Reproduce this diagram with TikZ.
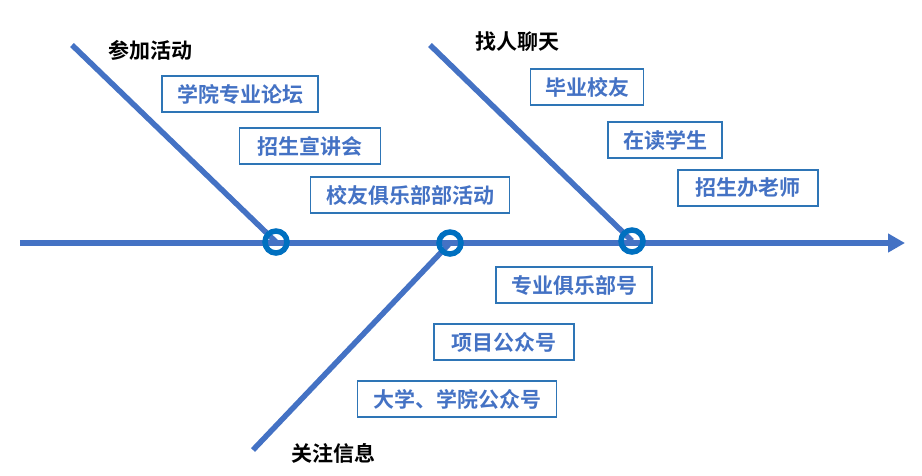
\documentclass[tikz,border=0pt]{standalone}
\usepackage{fontspec}
\setmainfont{Noto Sans CJK SC}[BoldFont={Noto Sans CJK SC Bold}]
\usetikzlibrary{arrows.meta}
\definecolor{bone}{HTML}{4472C4}
\definecolor{joint}{HTML}{0070C0}
\definecolor{boxline}{HTML}{2E75B6}

\begin{document}
\begin{tikzpicture}[x=1pt,y=-1pt,
    cause/.style = {draw=boxline, line width=1.1pt, text=bone, font=\fontsize{21}{23}\selectfont\bfseries, minimum height=36pt, inner xsep=8pt},
    head/.style = {font=\fontsize{21}{23}\selectfont\bfseries, text=black},
    ring/.style = {draw=joint, circle, line width=5.5pt, minimum size=22pt, inner sep=0pt},
    bone/.style = {draw=bone, line width=5.5pt}]
    \useasboundingbox (0,0) rectangle (922,475);

    % Nodes
    \coordinate (s) at (20,243);
    \coordinate (e) at (905,243);
    \coordinate (a0) at (72,45);
    \coordinate (b0) at (430,45);
    \coordinate (c0) at (253,450);
    \coordinate (ja) at (276,242);
    \coordinate (jc) at (450,243);
    \coordinate (jb) at (632,241);

    \node[head] (ha) at (150,50) {参加活动};
    \node[head] (hb) at (517,42) {找人聊天};
    \node[head] (hc) at (333,453) {关注信息};

    \node[cause, minimum width=156pt] (a1) at (240,94) {学院专业论坛};
    \node[cause, minimum width=141pt] (a2) at (310,146) {招生宣讲会};
    \node[cause, minimum width=199pt] (a3) at (410,195) {校友俱乐部部活动};
    \node[cause, minimum width=113pt] (b1) at (587,87) {毕业校友};
    \node[cause, minimum width=114pt] (b2) at (665,140) {在读学生};
    \node[cause, minimum width=140pt] (b3) at (748,188) {招生办老师};
    \node[cause, minimum width=156pt] (c1) at (574,285) {专业俱乐部号};
    \node[cause, minimum width=140pt] (c2) at (504,342) {项目公众号};
    \node[cause, minimum width=199pt] (c3) at (457,399) {大学、学院公众号};

    % Edges
    \draw[bone, -{Triangle[length=17pt,width=18pt]}] (s) -- (e);
    \draw[bone] (a0) -- (ja);
    \draw[bone] (b0) -- (jb);
    \draw[bone] (c0) -- (jc);

    % Joints
    \node[ring] (a) at (ja) {};
    \node[ring] (b) at (jb) {};
    \node[ring] (c) at (jc) {};

\end{tikzpicture}
\end{document}
